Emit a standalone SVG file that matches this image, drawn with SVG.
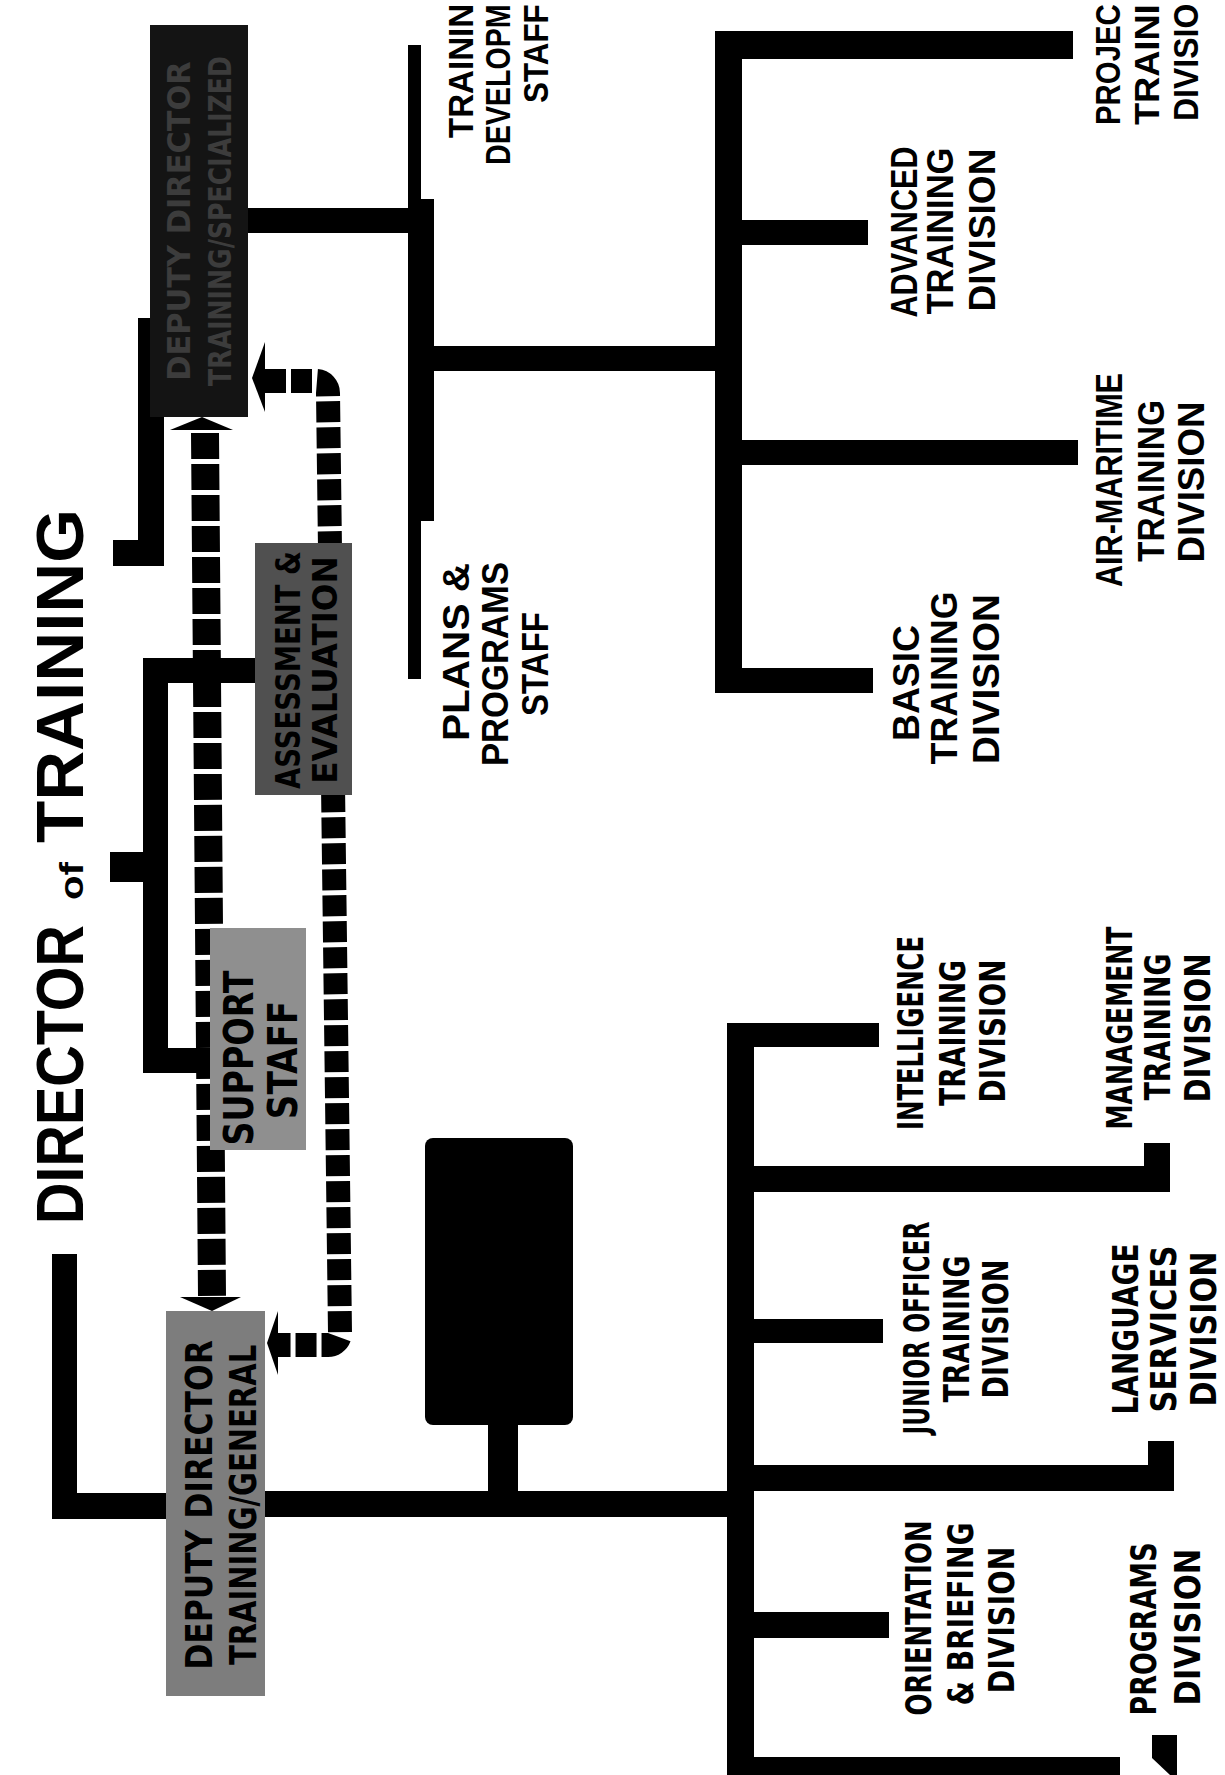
<svg xmlns="http://www.w3.org/2000/svg" width="1225" height="1775" viewBox="0 0 1225 1775">
<style>
 .bar{fill:#000}
 .arrow{fill:#000}
 .dash{fill:none;stroke:#000;stroke-width:28;stroke-dasharray:26 5}
 .dashb{fill:none;stroke:#000;stroke-width:24;stroke-dasharray:21 5}
 .t{font-family:"Liberation Sans",Arial,sans-serif;font-weight:bold;font-size:36px;fill:#000}
 .h{font-family:"DejaVu Sans","Liberation Sans",sans-serif;font-weight:bold;font-size:36px;fill:#000}
 .title{font-family:"Liberation Sans",Arial,sans-serif;font-weight:bold;font-size:66px;fill:#000}
 .dark{fill:#141414}
 .grayA{fill:#505050}
 .grayS{fill:#8f8f8f}
 .grayD{fill:#7d7d7d}
 .dim{fill:#3c3c3c}
</style>
<rect width="1225" height="1775" fill="#fff"/>

<g id="connectors">
 <!-- upper L from title to upper deputy -->
 <rect class="bar" x="138" y="318" width="26" height="248"/>
 <rect class="bar" x="113" y="540" width="51" height="26"/>
 <!-- upper deputy to staff spine -->
 <rect class="bar" x="246" y="208" width="166" height="25"/>
 <rect class="bar" x="408" y="45" width="13" height="634"/>
 <rect class="bar" x="408" y="199" width="26" height="322"/>
 <rect class="bar" x="432" y="346" width="285" height="25"/>
 <!-- upper division spine -->
 <rect class="bar" x="715" y="31" width="27" height="662"/>
 <rect class="bar" x="715" y="31" width="358" height="28"/>
 <rect class="bar" x="740" y="220" width="128" height="25"/>
 <rect class="bar" x="740" y="440" width="338" height="25"/>
 <rect class="bar" x="715" y="668" width="158" height="25"/>
 <!-- title stub and bracket to staff boxes -->
 <rect class="bar" x="110" y="852" width="38" height="30"/>
 <rect class="bar" x="143" y="658" width="25" height="415"/>
 <rect class="bar" x="143" y="658" width="114" height="25"/>
 <rect class="bar" x="143" y="1048" width="72" height="25"/>
 <!-- lower L and main bar -->
 <rect class="bar" x="52" y="1254" width="25" height="265"/>
 <rect class="bar" x="52" y="1493" width="120" height="26"/>
 <rect class="bar" x="260" y="1491" width="470" height="26"/>
 <rect class="bar" x="488" y="1420" width="30" height="73"/>
 <!-- lower division spine -->
 <rect class="bar" x="727" y="1023" width="27" height="752"/>
 <rect class="bar" x="727" y="1023" width="152" height="24"/>
 <rect class="bar" x="752" y="1166" width="418" height="26"/>
 <rect class="bar" x="1144" y="1143" width="26" height="49"/>
 <rect class="bar" x="752" y="1319" width="131" height="24"/>
 <rect class="bar" x="752" y="1465" width="422" height="26"/>
 <rect class="bar" x="1148" y="1441" width="26" height="50"/>
 <rect class="bar" x="752" y="1612" width="137" height="26"/>
 <rect class="bar" x="752" y="1757" width="368" height="18"/>
 <polygon class="bar" points="1152,1735 1177,1735 1177,1775 1170,1775 1152,1758"/>
 <!-- dashed links between deputies -->
 <path class="dash" d="M205 433 L212 1296"/>
 <polygon class="arrow" points="170,430 233,430 202,417"/>
 <polygon class="arrow" points="180,1297 241,1297 212,1311"/>
 <path class="dashb" d="M265 381 L316 381 A12 12 0 0 1 328 393 L340 1333 A12 12 0 0 1 328 1345 L278 1345"/>
 <polygon class="arrow" points="252,378 265,342 265,412"/>
 <polygon class="arrow" points="267,1343 278,1311 278,1375"/>
</g>

<g id="node-director" transform="rotate(-90)">
 <text class="title" x="-1224" y="83" textLength="299" lengthAdjust="spacingAndGlyphs">DIRECTOR</text>
 <text class="title" x="-900" y="83" style="font-size:34px" textLength="38" lengthAdjust="spacingAndGlyphs">of</text>
 <text class="title" x="-843" y="83" textLength="334" lengthAdjust="spacingAndGlyphs">TRAINING</text>
</g>

<g id="node-deputy-specialized">
 <rect class="dark" x="150" y="25" width="98" height="392"/>
 <g transform="rotate(-90)">
  <text class="h dim" transform="translate(-221,190) scale(0.85,1)" text-anchor="middle" style="font-size:32px" textLength="376" lengthAdjust="spacingAndGlyphs">DEPUTY DIRECTOR</text>
  <text class="h dim" transform="translate(-221,231) scale(0.78,1)" text-anchor="middle" style="font-size:32px" textLength="423" lengthAdjust="spacingAndGlyphs">TRAINING/SPECIALIZED</text>
 </g>
</g>

<g id="node-assessment">
 <rect class="grayA" x="255" y="543" width="97" height="252"/>
 <g transform="rotate(-90)">
  <text class="h" transform="translate(-670,300) scale(0.78,1)" text-anchor="middle" style="font-size:34px" textLength="305" lengthAdjust="spacingAndGlyphs">ASSESSMENT &amp;</text>
  <text class="h" transform="translate(-670,337) scale(0.9,1)" text-anchor="middle" style="font-size:34px" textLength="253" lengthAdjust="spacingAndGlyphs">EVALUATION</text>
 </g>
</g>

<g id="node-support">
 <rect class="grayS" x="210" y="928" width="96" height="222"/>
 <g transform="rotate(-90)">
  <text class="h" transform="translate(-1058,253) scale(0.8,1)" text-anchor="middle" style="font-size:40px" textLength="219" lengthAdjust="spacingAndGlyphs">SUPPORT</text>
  <text class="h" transform="translate(-1060,297) scale(0.8,1)" text-anchor="middle" style="font-size:40px" textLength="148" lengthAdjust="spacingAndGlyphs">STAFF</text>
 </g>
</g>

<g id="node-deputy-general">
 <rect class="grayD" x="166" y="1311" width="99" height="385"/>
 <g transform="rotate(-90)">
  <text class="h" transform="translate(-1505,212) scale(0.8,1)" text-anchor="middle" style="font-size:38px" textLength="412" lengthAdjust="spacingAndGlyphs">DEPUTY DIRECTOR</text>
  <text class="h" transform="translate(-1505,256) scale(0.75,1)" text-anchor="middle" style="font-size:38px" textLength="427" lengthAdjust="spacingAndGlyphs">TRAINING/GENERAL</text>
 </g>
</g>

<g id="node-blank">
 <rect x="425" y="1138" width="148" height="287" rx="8" fill="#000"/>
</g>

<g id="node-training-development" transform="rotate(-90)">
 <text class="t" transform="translate(-138,473) scale(0.9,1)" textLength="149" lengthAdjust="spacingAndGlyphs">TRAININ</text>
 <text class="t" transform="translate(-165,510) scale(0.78,1)" textLength="206" lengthAdjust="spacingAndGlyphs">DEVELOPM</text>
 <text class="t" transform="translate(-103,548) scale(0.83,1)" textLength="119" lengthAdjust="spacingAndGlyphs">STAFF</text>
</g>

<g id="node-plans-programs" transform="rotate(-90)">
 <text class="t" x="-652" y="469" text-anchor="middle" textLength="178" lengthAdjust="spacingAndGlyphs">PLANS &amp;</text>
 <text class="t" x="-664" y="508" text-anchor="middle" textLength="204" lengthAdjust="spacingAndGlyphs">PROGRAMS</text>
 <text class="t" x="-664" y="548" text-anchor="middle" textLength="104" lengthAdjust="spacingAndGlyphs">STAFF</text>
</g>

<g id="node-project" transform="rotate(-90)">
 <text class="t" transform="translate(-125,1120) scale(0.8,1)" textLength="151" lengthAdjust="spacingAndGlyphs">PROJEC</text>
 <text class="t" transform="translate(-125,1159) scale(0.88,1)" textLength="137" lengthAdjust="spacingAndGlyphs">TRAINI</text>
 <text class="t" transform="translate(-121,1198) scale(0.85,1)" textLength="138" lengthAdjust="spacingAndGlyphs">DIVISIO</text>
</g>

<g id="node-advanced" transform="rotate(-90)">
 <text class="t" x="-232" y="917" text-anchor="middle" textLength="171" lengthAdjust="spacingAndGlyphs">ADVANCED</text>
 <text class="t" x="-231" y="953" text-anchor="middle" textLength="167" lengthAdjust="spacingAndGlyphs">TRAINING</text>
 <text class="t" x="-230" y="995" text-anchor="middle" textLength="163" lengthAdjust="spacingAndGlyphs">DIVISION</text>
</g>

<g id="node-air-maritime" transform="rotate(-90)">
 <text class="t" x="-480" y="1122" text-anchor="middle" textLength="214" lengthAdjust="spacingAndGlyphs">AIR-MARITIME</text>
 <text class="t" x="-481" y="1164" text-anchor="middle" textLength="162" lengthAdjust="spacingAndGlyphs">TRAINING</text>
 <text class="t" x="-482" y="1204" text-anchor="middle" textLength="161" lengthAdjust="spacingAndGlyphs">DIVISION</text>
</g>

<g id="node-basic" transform="rotate(-90)">
 <text class="t" x="-683" y="919" text-anchor="middle" textLength="116" lengthAdjust="spacingAndGlyphs">BASIC</text>
 <text class="t" x="-678" y="957" text-anchor="middle" textLength="173" lengthAdjust="spacingAndGlyphs">TRAINING</text>
 <text class="t" x="-679" y="999" text-anchor="middle" textLength="170" lengthAdjust="spacingAndGlyphs">DIVISION</text>
</g>

<g id="node-intelligence" transform="rotate(-90)">
 <text class="h" x="-1033" y="923" text-anchor="middle" textLength="194" lengthAdjust="spacingAndGlyphs">INTELLIGENCE</text>
 <text class="h" x="-1033" y="965" text-anchor="middle" textLength="146" lengthAdjust="spacingAndGlyphs">TRAINING</text>
 <text class="h" x="-1031" y="1005" text-anchor="middle" textLength="143" lengthAdjust="spacingAndGlyphs">DIVISION</text>
</g>

<g id="node-management" transform="rotate(-90)">
 <text class="h" x="-1028" y="1132" text-anchor="middle" textLength="203" lengthAdjust="spacingAndGlyphs">MANAGEMENT</text>
 <text class="h" x="-1027" y="1170" text-anchor="middle" textLength="147" lengthAdjust="spacingAndGlyphs">TRAINING</text>
 <text class="h" x="-1028" y="1210" text-anchor="middle" textLength="149" lengthAdjust="spacingAndGlyphs">DIVISION</text>
</g>

<g id="node-junior-officer" transform="rotate(-90)">
 <text class="h" x="-1328" y="929" text-anchor="middle" textLength="213" lengthAdjust="spacingAndGlyphs">JUNIOR OFFICER</text>
 <text class="h" x="-1329" y="969" text-anchor="middle" textLength="147" lengthAdjust="spacingAndGlyphs">TRAINING</text>
 <text class="h" x="-1329" y="1008" text-anchor="middle" textLength="139" lengthAdjust="spacingAndGlyphs">DIVISION</text>
</g>

<g id="node-language" transform="rotate(-90)">
 <text class="h" x="-1329" y="1138" text-anchor="middle" textLength="171" lengthAdjust="spacingAndGlyphs">LANGUAGE</text>
 <text class="h" x="-1329" y="1176" text-anchor="middle" textLength="167" lengthAdjust="spacingAndGlyphs">SERVICES</text>
 <text class="h" x="-1329" y="1216" text-anchor="middle" textLength="155" lengthAdjust="spacingAndGlyphs">DIVISION</text>
</g>

<g id="node-orientation" transform="rotate(-90)">
 <text class="h" x="-1618" y="931" text-anchor="middle" textLength="195" lengthAdjust="spacingAndGlyphs">ORIENTATION</text>
 <text class="h" x="-1614" y="973" text-anchor="middle" textLength="183" lengthAdjust="spacingAndGlyphs">&amp; BRIEFING</text>
 <text class="h" x="-1620" y="1014" text-anchor="middle" textLength="147" lengthAdjust="spacingAndGlyphs">DIVISION</text>
</g>

<g id="node-programs" transform="rotate(-90)">
 <text class="h" x="-1629" y="1156" text-anchor="middle" textLength="173" lengthAdjust="spacingAndGlyphs">PROGRAMS</text>
 <text class="h" x="-1627" y="1200" text-anchor="middle" textLength="157" lengthAdjust="spacingAndGlyphs">DIVISION</text>
</g>
</svg>
